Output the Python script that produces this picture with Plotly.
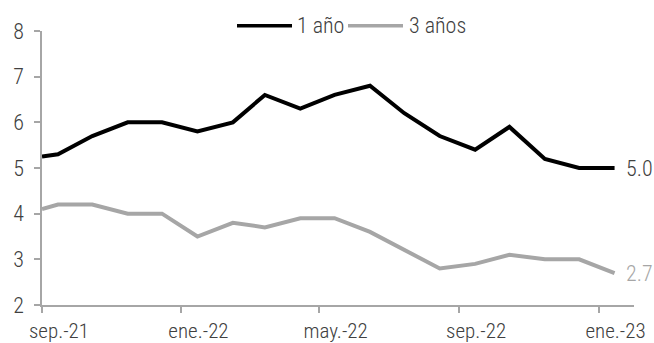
import plotly.graph_objects as go

dates = ["2021-09-01", "2021-09-15", "2021-10-15", "2021-11-15", "2021-12-15",
         "2022-01-15", "2022-02-15", "2022-03-15", "2022-04-15", "2022-05-15",
         "2022-06-15", "2022-07-15", "2022-08-15", "2022-09-15", "2022-10-15",
         "2022-11-15", "2022-12-15", "2023-01-15"]
uno_anio = [5.25, 5.3, 5.7, 6.0, 6.0, 5.8, 6.0, 6.6, 6.3, 6.6, 6.8, 6.2, 5.7, 5.4, 5.9, 5.2, 5.0, 5.0]
tres_anios = [4.1, 4.2, 4.2, 4.0, 4.0, 3.5, 3.8, 3.7, 3.9, 3.9, 3.6, 3.2, 2.8, 2.9, 3.1, 3.0, 3.0, 2.7]
tick_dates = ["2021-09-01", "2022-01-01", "2022-05-01", "2022-09-01", "2023-01-01"]
tick_text = ["sep.-21", "ene.-22", "may.-22", "sep.-22", "ene.-23"]
y_ticks = [2, 3, 4, 5, 6, 7, 8]
series_names = ["1 año", "3 años"]
series_colors = ["#000000", "#A6A6A6"]

FONT = "Roboto Condensed, Roboto, sans-serif"
FS = 22
FT = 21
TXT = "#404040"
AX = "#A6A6A6"

fig = go.Figure()
for name, vals, col in zip(series_names, [uno_anio, tres_anios], series_colors):
    fig.add_trace(go.Scatter(x=dates, y=vals, mode="lines", name=name,
                             line=dict(color=col, width=4), showlegend=False))

label_cols = [TXT, "#A6A6A6"]
for vals, col in zip([uno_anio, tres_anios], label_cols):
    fig.add_annotation(x=dates[-1], y=vals[-1], text=f"{vals[-1]:.1f}", showarrow=False,
                       xanchor="left", xshift=9, font=dict(color=col, size=FS, family=FONT, weight=300))

# manual legend (line sample + text), centered above plot
leg_y = 1.019
leg_items = [(0.3294, 0.4223, 0.4274), (0.5169, 0.6098, 0.6166)]
for (x0, x1, xt), name, col in zip(leg_items, series_names, series_colors):
    fig.add_shape(type="line", xref="paper", yref="paper", x0=x0, x1=x1, y0=leg_y, y1=leg_y,
                  line=dict(color=col, width=3.5))
    fig.add_annotation(xref="paper", yref="paper", x=xt, y=leg_y, text=name, showarrow=False,
                       xanchor="left", yanchor="middle",
                       font=dict(color=TXT, size=FS, family=FONT, weight=300))

fig.update_layout(
    width=654, height=343,
    margin=dict(l=42, r=20, t=31, b=38, autoexpand=False),
    paper_bgcolor="white", plot_bgcolor="white",
    font=dict(family=FONT, size=FS, color=TXT, weight=300),
    showlegend=False,
)
fig.update_xaxes(type="date", range=["2021-09-01", "2023-02-01"],
                 tickvals=tick_dates, ticktext=tick_text, ticklabelshift=17,
                 tickfont=dict(family=FONT, size=FT, color=TXT, weight=300),
                 showline=True, linecolor=AX, linewidth=1.5,
                 ticks="outside", ticklen=6, tickcolor=AX, tickwidth=1.5,
                 showgrid=False, zeroline=False)
fig.update_yaxes(range=[2, 8], tickvals=y_ticks,
                 tickfont=dict(family=FONT, size=FS, color=TXT, weight=300),
                 showline=True, linecolor=AX, linewidth=1.5,
                 ticks="outside", ticklen=6, tickcolor=AX, tickwidth=1.5,
                 ticklabelstandoff=6,
                 showgrid=False, zeroline=False)

fig.write_html("out.html")
